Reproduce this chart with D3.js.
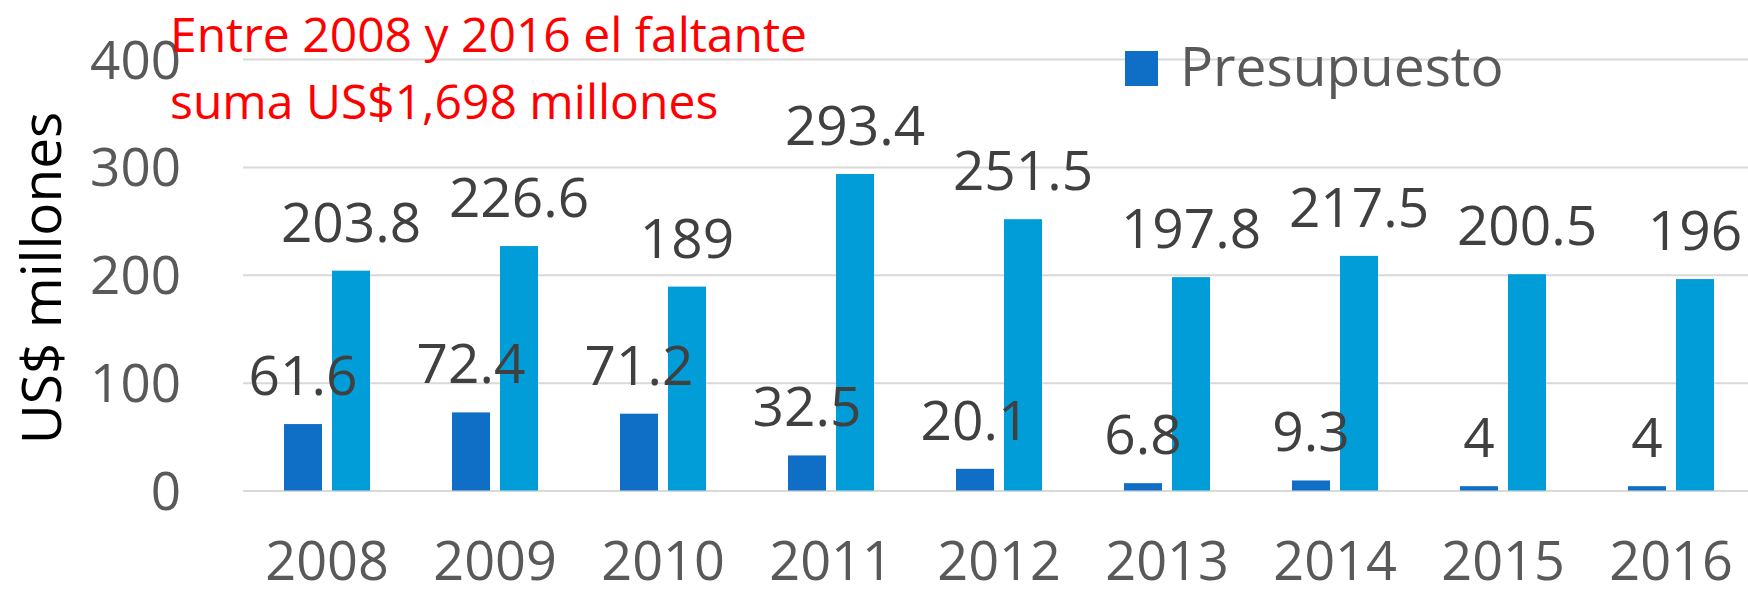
<!DOCTYPE html>
<html><head><meta charset="utf-8">
<script src="https://cdn.jsdelivr.net/npm/d3@7"></script>
<style>html,body{margin:0;padding:0;background:#fff;overflow:hidden}</style>
</head><body>
<svg id="chart" width="1748" height="596"></svg>
<script>
const years = ["2008","2009","2010","2011","2012","2013","2014","2015","2016"];
const presupuesto = [61.6, 72.4, 71.2, 32.5, 20.1, 6.8, 9.3, 4, 4];
const requerido = [203.8, 226.6, 189, 293.4, 251.5, 197.8, 217.5, 200.5, 196];
const yTicks = [0, 100, 200, 300, 400];
const seriesNames = ["Presupuesto", "Requerido"];
const titleLines = ["Entre 2008 y 2016 el faltante", "suma US$1,698 millones"];
const yTitle = "US$ millones";

(function () {
const colors = {"Presupuesto": "#0F6FC6", "Requerido": "#009DD9"};
const FONT = "'Open Sans', 'DejaVu Sans', sans-serif";

const svg = d3.select("#chart");
const pLeft = 243, pRight = 1755, pTop = 59, pBottom = 490.5;

const x0 = d3.scaleBand().domain(years).range([pLeft, pRight]).paddingInner(82/168).paddingOuter(41/168);
const x1 = d3.scaleBand().domain(seriesNames).range([0, x0.bandwidth()]).paddingInner(10/48).paddingOuter(0);
const y = d3.scaleLinear().domain([0, 400]).range([pBottom, pTop]);

// gridlines + y tick labels
const yAxis = d3.axisLeft(y).tickValues(yTicks).tickSize(-(pRight - pLeft)).tickPadding(62);
const gy = svg.append("g").attr("transform", `translate(${pLeft},0)`).call(yAxis);
gy.select(".domain").remove();
gy.selectAll(".tick line").attr("stroke", "#D9D9D9").attr("stroke-width", 2);
gy.selectAll(".tick text").attr("fill", "#595959").style("font-family", FONT).style("font-size", "53px").attr("dy", "0.36em");

// x axis labels
const xAxis = d3.axisBottom(x0).tickSize(0).tickPadding(0);
const gx = svg.append("g").attr("transform", `translate(0,${pBottom})`).call(xAxis);
gx.select(".domain").remove();
gx.selectAll(".tick text").attr("fill", "#595959").style("font-family", FONT).style("font-size", "54px").attr("y", 89).attr("dy", 0);

const data = years.map((yr, i) => ({year: yr, vals: [
  {name: "Presupuesto", v: presupuesto[i]},
  {name: "Requerido", v: requerido[i]}
]}));

const groups = svg.append("g").selectAll("g").data(data).join("g")
  .attr("transform", d => `translate(${x0(d.year)},0)`);
groups.selectAll("rect").data(d => d.vals).join("rect")
  .attr("x", d => x1(d.name)).attr("width", x1.bandwidth())
  .attr("y", d => y(d.v)).attr("height", d => y(0) - y(d.v))
  .attr("fill", d => colors[d.name]);

// data labels on top
const lab = svg.append("g");
data.forEach(d => {
  d.vals.forEach(s => {
    lab.append("text")
      .attr("x", x0(d.year) + x1(s.name) + x1.bandwidth()/2)
      .attr("y", y(s.v) - 29)
      .attr("text-anchor", "middle")
      .attr("fill", "#404040")
      .style("font-family", FONT).style("font-size", "55px")
      .text(String(s.v));
  });
});

// y title
svg.append("text")
  .attr("transform", "translate(61,278) rotate(-90)")
  .attr("text-anchor", "middle")
  .attr("fill", "#000")
  .style("font-family", FONT).style("font-size", "55px")
  .text(yTitle);

// red annotation
svg.append("g").selectAll("text").data(titleLines).join("text")
  .attr("x", 170).attr("y", (d, i) => 52 + i * 67)
  .attr("fill", "#FF0000")
  .style("font-family", FONT).style("font-size", "48px")
  .text(d => d);

// legend
svg.append("rect").attr("x", 1125).attr("y", 51).attr("width", 33).attr("height", 35).attr("fill", colors["Presupuesto"]);
svg.append("text").attr("x", 1180).attr("y", 86).attr("fill", "#595959")
  .style("font-family", FONT).style("font-size", "55px").text(seriesNames[0]);
})();
</script>
</body></html>
